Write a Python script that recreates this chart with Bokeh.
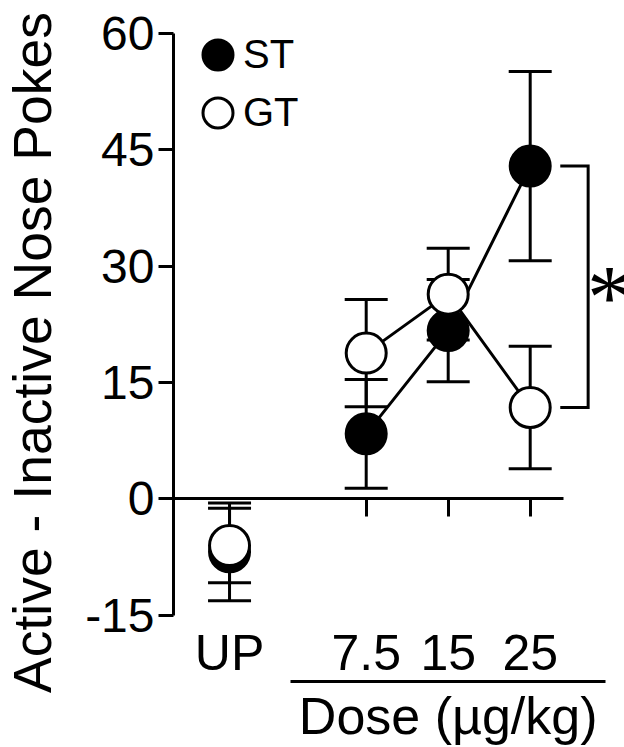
from bokeh.plotting import figure
from bokeh.models import (Range1d, FixedTicker, LinearAxis, Whisker, TeeHead,
                          ColumnDataSource, Legend, LegendItem)
from bokeh.embed import file_html
from bokeh.resources import INLINE

# ---- data ----
groups = ["UP", "7.5", "15", "25"]
x_pos = [0, 5, 8, 11]
st_mean = [-6.8, 8.4, 21.7, 42.9]
st_sem = [6.3, 7.0, 6.6, 12.2]
gt_mean = [-6.0, 18.8, 26.4, 11.8]
gt_sem = [4.8, 6.9, 5.9, 7.9]
y_ticks = [-15, 0, 15, 30, 45, 60]
y_title = "Active - Inactive Nose Pokes"
x_title = "Dose (µg/kg)"
series_names = ["ST", "GT"]

FONT = "Liberation Sans"
X0, X1 = -2.05, 14.45
Y0, Y1 = -23.52, 61.28

p = figure(width=624, height=747, x_range=Range1d(X0, X1), y_range=Range1d(Y0, Y1),
           output_backend="svg", toolbar_location=None,
           min_border_left=173, min_border_right=0, min_border_top=23, min_border_bottom=66)
p.outline_line_color = None
p.grid.visible = False
p.background_fill_color = "white"
p.border_fill_color = "white"

# ---- y axis ----
yax = p.yaxis[0]
yax.ticker = FixedTicker(ticks=y_ticks)
yax.major_label_overrides = {t: str(t) for t in y_ticks}
yax.bounds = (-15, 60)
yax.axis_line_width = 3
yax.axis_line_color = "black"
yax.major_tick_line_width = 3
yax.major_tick_line_color = "black"
yax.major_tick_out = 15
yax.major_tick_in = 0
yax.minor_tick_line_color = None
yax.major_label_text_font = FONT
yax.major_label_text_font_size = "48px"
yax.major_label_text_color = "black"
yax.major_label_standoff = 4
yax.axis_label = y_title
yax.axis_label_text_font = FONT
yax.axis_label_text_font_size = "53.5px"
yax.axis_label_text_font_style = "normal"
yax.axis_label_text_color = "black"
yax.axis_label_standoff = 20

# ---- x axis: underline + "Dose (µg/kg)" under the dose group ----
xax = p.xaxis[0]
xax.ticker = FixedTicker(ticks=[x_pos[2]])
xax.major_label_overrides = {x_pos[2]: x_title}
xax.bounds = (2.23, 13.76)
xax.axis_line_width = 3
xax.axis_line_color = "black"
xax.major_tick_line_color = None
xax.major_tick_out = 0
xax.major_tick_in = 0
xax.minor_tick_line_color = None
xax.major_label_text_font = FONT
xax.major_label_text_font_size = "52px"
xax.major_label_text_color = "black"
xax.major_label_standoff = 5

# ---- zero line with dose ticks ----
zax = LinearAxis(fixed_location=0, bounds=(X0, x_pos[-1] + 1.2),
                 ticker=FixedTicker(ticks=x_pos[1:]),
                 major_label_overrides={x: "" for x in x_pos[1:]},
                 axis_line_width=3, axis_line_color="black",
                 major_tick_line_width=3, major_tick_line_color="black",
                 major_tick_out=0, major_tick_in=18, minor_tick_line_color=None,
                 major_label_standoff=0)
p.add_layout(zax, "above")

# ---- category labels ----
p.text(x=x_pos, y=[-19.8] * len(x_pos), text=groups, text_align="center",
       text_baseline="alphabetic", text_font={"value": FONT},
       text_font_size="50px", text_color="black")


def series(mean, sem):
    return ColumnDataSource(dict(
        x=x_pos, y=mean,
        upper=[m + s for m, s in zip(mean, sem)],
        lower=[m - s for m, s in zip(mean, sem)]))


st_src = series(st_mean, st_sem)
gt_src = series(gt_mean, gt_sem)

for src in (st_src, gt_src):
    p.add_layout(Whisker(source=src, base="x", upper="upper", lower="lower",
                         dimension="height", line_width=3, line_color="black",
                         upper_head=TeeHead(size=43, line_width=3, line_color="black"),
                         lower_head=TeeHead(size=43, line_width=3, line_color="black")))

p.line(x_pos[1:], st_mean[1:], line_width=3, line_color="black")
p.line(x_pos[1:], gt_mean[1:], line_width=3, line_color="black")

st_r = p.scatter("x", "y", source=st_src, size=40, marker="circle",
                 fill_color="black", line_color="black", line_width=3)
gt_r = p.scatter("x", "y", source=gt_src, size=40, marker="circle",
                 fill_color="white", line_color="black", line_width=3)

# ---- significance bracket at 25 ug/kg ----
bx0 = x_pos[3] + 1.1
bx1 = x_pos[3] + 2.12
p.line([bx0, bx1, bx1, bx0], [st_mean[3], st_mean[3], gt_mean[3], gt_mean[3]],
       line_width=3, line_color="black", line_join="miter")
p.text(x=[x_pos[3] + 2.9], y=[26.0], text=["*"], text_align="center",
       text_baseline="middle", text_font={"value": "Liberation Serif"},
       text_font_size="90px", text_color="black")

# ---- legend ----
# marker boxes (large glyph area so the legend circle is ~30px)
for r, vy in ((st_r, 589), (gt_r, 531)):
    p.add_layout(Legend(items=[LegendItem(label="", renderers=[r])],
                        location=(7, vy), margin=0, padding=0,
                        glyph_width=75, glyph_height=75, label_standoff=0,
                        label_text_font_size="1px",
                        background_fill_alpha=0, border_line_color=None))
# label boxes, placed close to the markers (glyph drawn invisibly)
ghost = p.scatter("x", "y", source=st_src, size=1, fill_alpha=0, line_alpha=0)
for name, vy in zip(series_names, (589, 531)):
    p.add_layout(Legend(items=[LegendItem(label=name, renderers=[ghost])],
                        location=(69, vy), margin=0, padding=0,
                        glyph_width=1, glyph_height=75, label_standoff=0,
                        label_text_font=FONT, label_text_font_size="40px",
                        label_text_color="black",
                        background_fill_alpha=0, border_line_color=None))

open("out.html", "w").write(file_html(p, INLINE, "chart"))
